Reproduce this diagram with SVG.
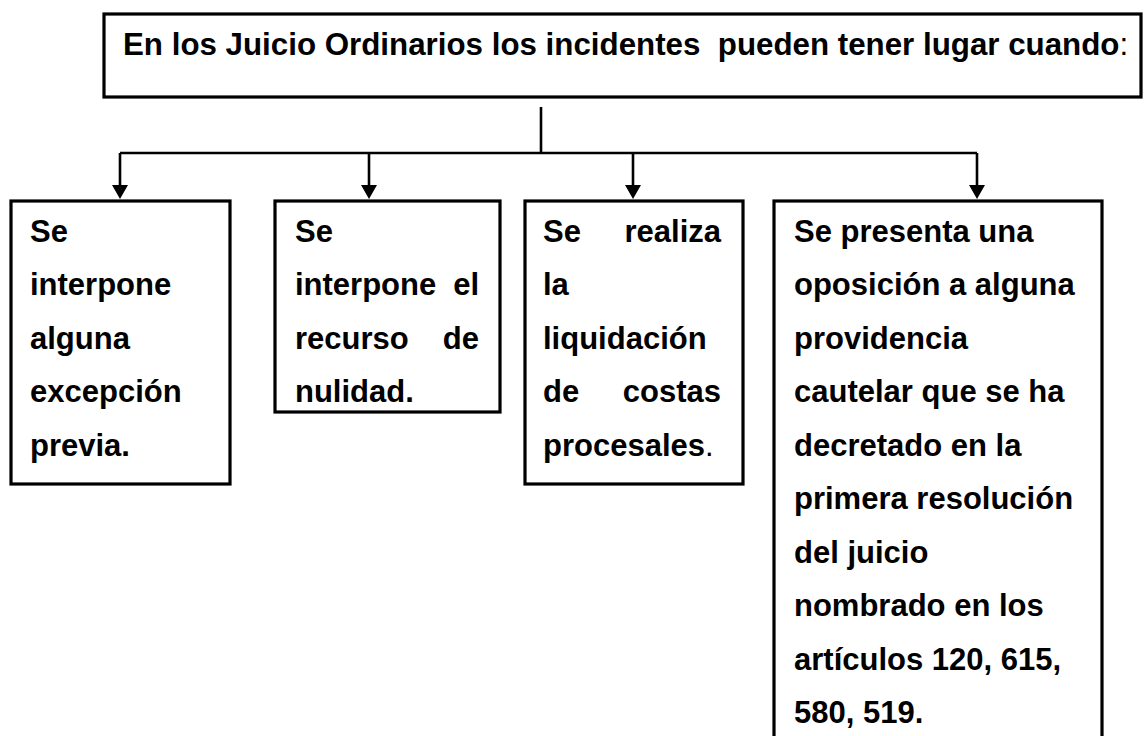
<svg xmlns="http://www.w3.org/2000/svg" width="1144" height="736" viewBox="0 0 1144 736">
<style>
.box{fill:#fff;stroke:#000;stroke-width:3.2}
.t{font-family:"Liberation Sans",Arial,sans-serif;font-weight:bold;font-size:31px;fill:#000}
.h{font-size:31.3px}
.n{font-weight:normal}
.c{fill:none;stroke:#000;stroke-width:2.6}
</style>
<rect width="1144" height="736" fill="#fff"/>
<g id="header">
<rect class="box" x="104" y="14" width="1037" height="83"/>
<text class="t h" x="123" y="55" xml:space="preserve">En los Juicio Ordinarios los incidentes  pueden tener lugar cuando<tspan class="n">:</tspan></text>
</g>
<g id="connectors">
<line class="c" x1="541" y1="107" x2="541" y2="153"/>
<line class="c" x1="120" y1="153" x2="977" y2="153"/>
<path class="c" d="M120,153 V186"/>
<path class="c" d="M369,153 V186"/>
<path class="c" d="M633,153 V186"/>
<path class="c" d="M977,153 V186"/>
<path d="M112,185 L128,185 L120,199 Z M361,185 L377,185 L369,199 Z M625,185 L641,185 L633,199 Z M969,185 L985,185 L977,199 Z" fill="#000"/>
</g>
<g id="node1">
<rect class="box" x="11" y="201" width="219" height="283"/>
<text class="t" x="30" y="241.5">Se</text>
<text class="t" x="30" y="295">interpone</text>
<text class="t" x="30" y="348.5">alguna</text>
<text class="t" x="30" y="402">excepción</text>
<text class="t" x="30" y="455.5">previa.</text>
</g>
<g id="node2">
<rect class="box" x="275" y="201" width="225" height="211"/>
<text class="t" x="295" y="241.5">Se</text>
<text class="t" x="295" y="295">interpone</text>
<text class="t" x="479" y="295" text-anchor="end">el</text>
<text class="t" x="295" y="348.5">recurso</text>
<text class="t" x="479" y="348.5" text-anchor="end">de</text>
<text class="t" x="295" y="402">nulidad.</text>
</g>
<g id="node3">
<rect class="box" x="525" y="201" width="218" height="283"/>
<text class="t" x="543" y="241.5">Se</text>
<text class="t" x="721" y="241.5" text-anchor="end">realiza</text>
<text class="t" x="543" y="295">la</text>
<text class="t" x="543" y="348.5">liquidación</text>
<text class="t" x="543" y="402">de</text>
<text class="t" x="721" y="402" text-anchor="end">costas</text>
<text class="t" x="543" y="455.5">procesales<tspan class="n">.</tspan></text>
</g>
<g id="node4">
<rect class="box" x="774" y="201" width="328" height="560"/>
<text class="t" x="794" y="241.5">Se presenta una</text>
<text class="t" x="794" y="295">oposición a alguna</text>
<text class="t" x="794" y="348.5">providencia</text>
<text class="t" x="794" y="402">cautelar que se ha</text>
<text class="t" x="794" y="455.5">decretado en la</text>
<text class="t" x="794" y="509">primera resolución</text>
<text class="t" x="794" y="562.5">del juicio</text>
<text class="t" x="794" y="616">nombrado en los</text>
<text class="t" x="794" y="669.5">artículos 120, 615,</text>
<text class="t" x="794" y="723">580, 519.</text>
</g>
</svg>
